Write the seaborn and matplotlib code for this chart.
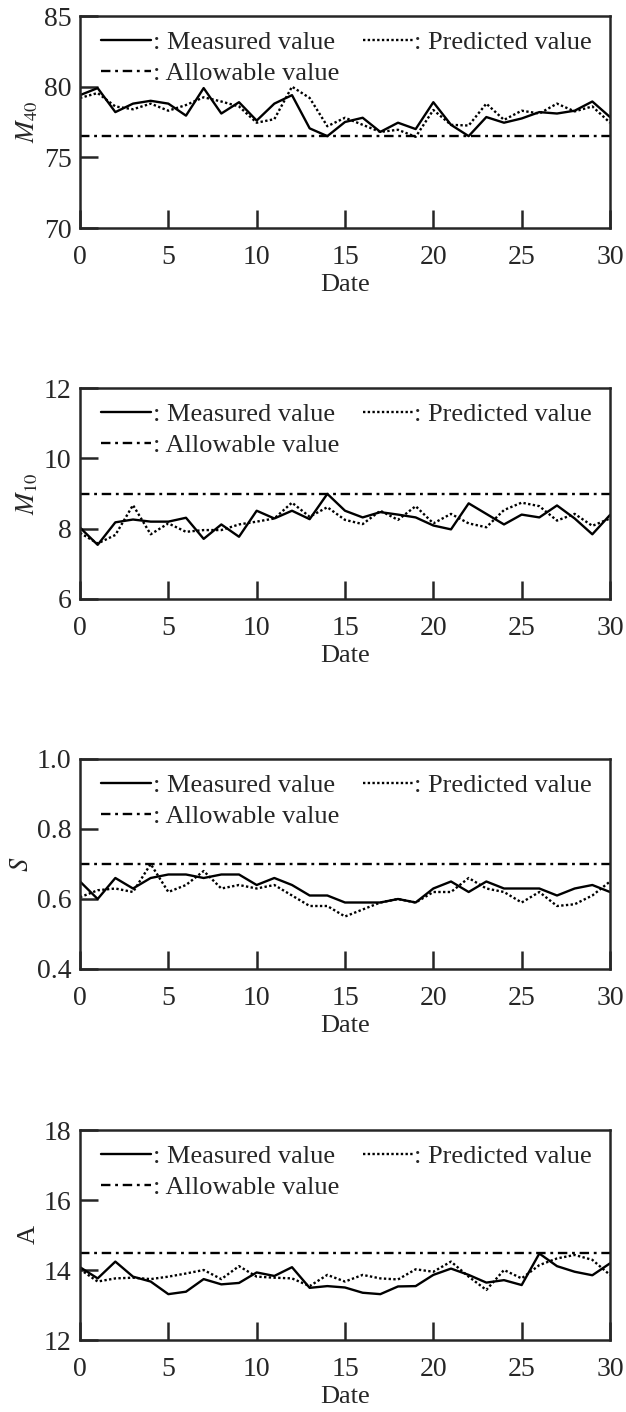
import numpy as np
import pandas as pd
import seaborn as sns
import matplotlib.pyplot as plt
from matplotlib.lines import Line2D

# days 0..30
dates = list(range(31))

# M40
m40_measured = [79.4, 79.9, 78.2, 78.8, 79.0, 78.8, 77.95, 79.9, 78.1, 78.9, 77.6, 78.8, 79.4, 77.05, 76.5,
                77.5, 77.8, 76.8, 77.45, 77.0, 78.9, 77.3, 76.5, 77.85, 77.45, 77.75, 78.2, 78.1, 78.3, 78.95, 77.85]
m40_predicted = [79.2, 79.55, 78.6, 78.4, 78.8, 78.3, 78.7, 79.25, 78.95, 78.6, 77.45, 77.7, 80.0, 79.2, 77.2,
                 77.8, 77.3, 76.8, 76.95, 76.45, 78.35, 77.3, 77.25, 78.8, 77.65, 78.3, 78.1, 78.8, 78.25, 78.6, 77.45]
m40_allow = 76.5

# M10
m10_measured = [8.03, 7.54, 8.18, 8.26, 8.2, 8.2, 8.31, 7.71, 8.12, 7.77, 8.51, 8.29, 8.51, 8.27, 8.99,
                8.51, 8.32, 8.47, 8.4, 8.32, 8.09, 7.98, 8.72, 8.42, 8.12, 8.4, 8.32, 8.66, 8.29, 7.84, 8.39]
m10_predicted = [7.88, 7.58, 7.82, 8.67, 7.84, 8.15, 7.91, 7.96, 7.96, 8.12, 8.2, 8.29, 8.74, 8.34, 8.61,
                 8.25, 8.13, 8.51, 8.25, 8.64, 8.15, 8.42, 8.15, 8.04, 8.53, 8.74, 8.64, 8.23, 8.42, 8.08, 8.29]
m10_allow = 9.0

# S
s_measured = [0.65, 0.60, 0.66, 0.63, 0.66, 0.67, 0.67, 0.66, 0.67, 0.67, 0.64, 0.66, 0.64, 0.61, 0.61,
              0.59, 0.59, 0.59, 0.60, 0.59, 0.63, 0.65, 0.62, 0.65, 0.63, 0.63, 0.63, 0.61, 0.63, 0.64, 0.62]
s_predicted = [0.605, 0.625, 0.63, 0.62, 0.70, 0.62, 0.64, 0.68, 0.63, 0.64, 0.63, 0.64, 0.61, 0.58, 0.58,
               0.55, 0.57, 0.59, 0.60, 0.59, 0.62, 0.62, 0.66, 0.63, 0.62, 0.59, 0.62, 0.58, 0.585, 0.61, 0.65]
s_allow = 0.70

# A
a_measured = [14.08, 13.76, 14.24, 13.81, 13.67, 13.31, 13.38, 13.74, 13.59, 13.63, 13.93, 13.83, 14.08, 13.49, 13.54,
              13.5, 13.35, 13.31, 13.53, 13.54, 13.86, 14.04, 13.86, 13.64, 13.71, 13.57, 14.47, 14.11, 13.95, 13.85, 14.19]
a_predicted = [14.02, 13.67, 13.76, 13.78, 13.74, 13.81, 13.9, 14.0, 13.74, 14.11, 13.81, 13.78, 13.76, 13.54, 13.86,
               13.67, 13.86, 13.76, 13.73, 14.02, 13.95, 14.24, 13.81, 13.43, 14.0, 13.76, 14.14, 14.33, 14.43, 14.29, 13.86]
a_allow = 14.5

panels = [
    (r'$M_{40}$', m40_measured, m40_predicted, m40_allow, (70, 85), [70, 75, 80, 85], None),
    (r'$M_{10}$', m10_measured, m10_predicted, m10_allow, (6, 12), [6, 8, 10, 12], None),
    (r'$S$', s_measured, s_predicted, s_allow, (0.4, 1.0), [0.4, 0.6, 0.8, 1.0], '{:.1f}'),
    ('A', a_measured, a_predicted, a_allow, (12, 18), [12, 14, 16, 18], None),
]

sns.set_style('ticks')
plt.rcParams['font.family'] = ['Liberation Serif', 'DejaVu Serif']
plt.rcParams['mathtext.fontset'] = 'stix'
plt.rcParams['font.size'] = 19

fig = plt.figure(figsize=(6.26, 14.12), dpi=100)
W, H = 626, 1412
boxes = [(16, 228), (388, 599), (759, 969), (1130, 1340)]

dot_style = (0, (1, 1))
dashdot_style = (0, (4, 2, 1.2, 2))
lw = 1.7

for (ylab, meas, pred, allow, ylim, yticks, fmt), (top, bot) in zip(panels, boxes):
    ax = fig.add_axes([80 / W, 1 - bot / H, 530 / W, (bot - top) / H])
    df = pd.DataFrame({'Date': dates, 'Measured': meas, 'Predicted': pred})
    sns.lineplot(data=df, x='Date', y='Measured', ax=ax, color='black', lw=lw)
    sns.lineplot(data=df, x='Date', y='Predicted', ax=ax, color='black', lw=lw, linestyle=dot_style)
    ax.axhline(allow, color='black', lw=lw, linestyle=dashdot_style)

    ax.set_xlim(0, 30)
    ax.set_ylim(*ylim)
    ax.set_xticks([0, 5, 10, 15, 20, 25, 30])
    ax.set_yticks(yticks)
    if fmt:
        ax.set_yticklabels([fmt.format(t) for t in yticks])
    ax.tick_params(direction='in', length=13, width=1.8, labelsize=20)
    ax.tick_params(axis='x', pad=12)
    ax.tick_params(axis='y', pad=6)
    for sp in ax.spines.values():
        sp.set_linewidth(1.8)
    ax.set_xlabel('Date', fontsize=19, labelpad=3)
    ax.set_ylabel(ylab, fontsize=19, labelpad=3)

    handles = [Line2D([], [], color='black', lw=lw),
               Line2D([], [], color='black', lw=lw, linestyle=dashdot_style),
               Line2D([], [], color='black', lw=lw, linestyle=dot_style)]
    labels = [': Measured value', ': Allowable value', ': Predicted value']
    ax.legend(handles, labels, ncol=2, loc='upper left', bbox_to_anchor=(0.03, 0.957),
              frameon=False, fontsize=19, handlelength=1.9, handletextpad=0.05,
              columnspacing=0.9, labelspacing=0.29, borderaxespad=0, borderpad=0.2)

fig.savefig('out.png', dpi=100)
